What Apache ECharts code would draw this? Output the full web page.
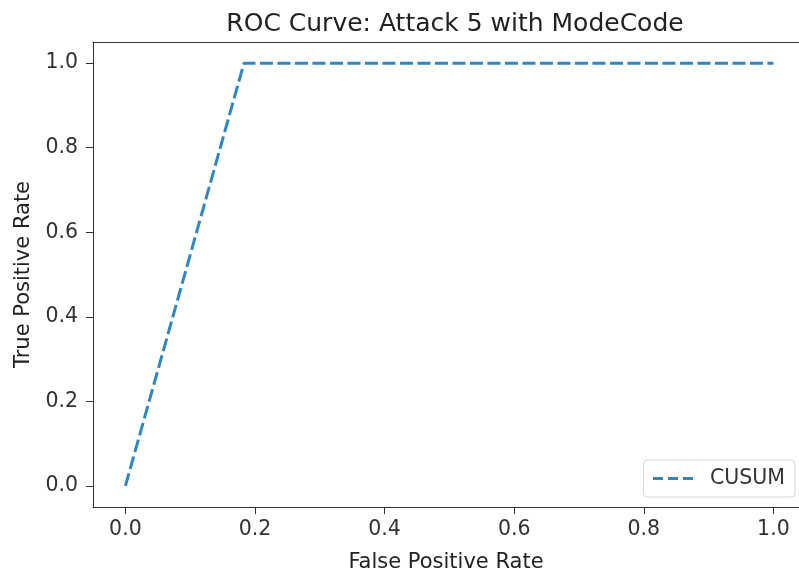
<!DOCTYPE html>
<html>
<head>
<meta charset="utf-8">
<script src="https://cdn.jsdelivr.net/npm/echarts@6/dist/echarts.min.js"></script>
<style>
  html, body { margin: 0; padding: 0; background: #fff; }
  #chart { width: 799px; height: 575px; }
</style>
</head>
<body>
<div id="chart"></div>
<script>
// ROC points for CUSUM
const fpr = [0.0, 0.183, 1.0];
const tpr = [0.0, 1.0, 1.0];
const tickValues = [0, 0.2, 0.4, 0.6, 0.8, 1.0];

const chart = echarts.init(document.getElementById('chart'));
const font = 'DejaVu Sans';
const lineColor = '#2f86c6';

const option = {
  animation: false,
  title: {
    text: 'ROC Curve: Attack 5 with ModeCode',
    left: 450,
    top: 7,
    textAlign: 'center',
    textStyle: { fontFamily: font, fontSize: 25, fontWeight: 'normal', color: '#222' }
  },
  grid: { left: 93, top: 42, right: 0, bottom: 68, outerBoundsMode: 'none' },
  legend: {
    right: 4, bottom: 78,
    itemWidth: 42, itemHeight: 14,
    padding: [8, 10, 8, 8],
    borderColor: '#d6d6d6', borderWidth: 1, borderRadius: 4,
    itemStyle: { opacity: 0 },
    lineStyle: { type: [10, 5], width: 3 },
    textStyle: { fontFamily: font, fontSize: 20.5, color: '#333', padding: [0, 0, 0, 10] },
    data: ['CUSUM']
  },
  xAxis: [{
    type: 'value', min: -0.05, max: 1.0395,
    name: 'False Positive Rate', nameLocation: 'middle', nameGap: 45,
    nameTextStyle: { fontFamily: font, fontSize: 21, color: '#222' },
    axisLine: { onZero: false, lineStyle: { color: '#333' } },
    axisTick: { show: true, length: 7, lineStyle: { color: '#333' }, customValues: tickValues },
    axisLabel: {
      fontFamily: font, fontSize: 20.5, color: '#333', margin: 12,
      customValues: tickValues, formatter: v => v.toFixed(1)
    },
    splitLine: { show: false }
  }, {
    // top spine only
    type: 'value', position: 'top', min: -0.05, max: 1.0395,
    axisLine: { show: true, onZero: false, lineStyle: { color: '#333' } },
    axisTick: { show: false }, axisLabel: { show: false }, splitLine: { show: false }
  }],
  yAxis: {
    type: 'value', min: -0.05, max: 1.05,
    name: 'True Positive Rate', nameLocation: 'middle', nameGap: 58,
    nameTextStyle: { fontFamily: font, fontSize: 21, color: '#222' },
    axisLine: { show: true, onZero: false, lineStyle: { color: '#333' } },
    axisTick: { show: true, length: 7, lineStyle: { color: '#333' }, customValues: tickValues },
    axisLabel: {
      fontFamily: font, fontSize: 20.5, color: '#333', margin: 15,
      customValues: tickValues, formatter: v => v.toFixed(1)
    },
    splitLine: { show: false }
  },
  series: [{
    name: 'CUSUM',
    type: 'line',
    data: fpr.map((x, i) => [x, tpr[i]]),
    symbol: 'none',
    lineStyle: { color: lineColor, width: 3, type: [13, 4.5] },
    itemStyle: { color: lineColor }
  }]
};
chart.setOption(option);
</script>
</body>
</html>
